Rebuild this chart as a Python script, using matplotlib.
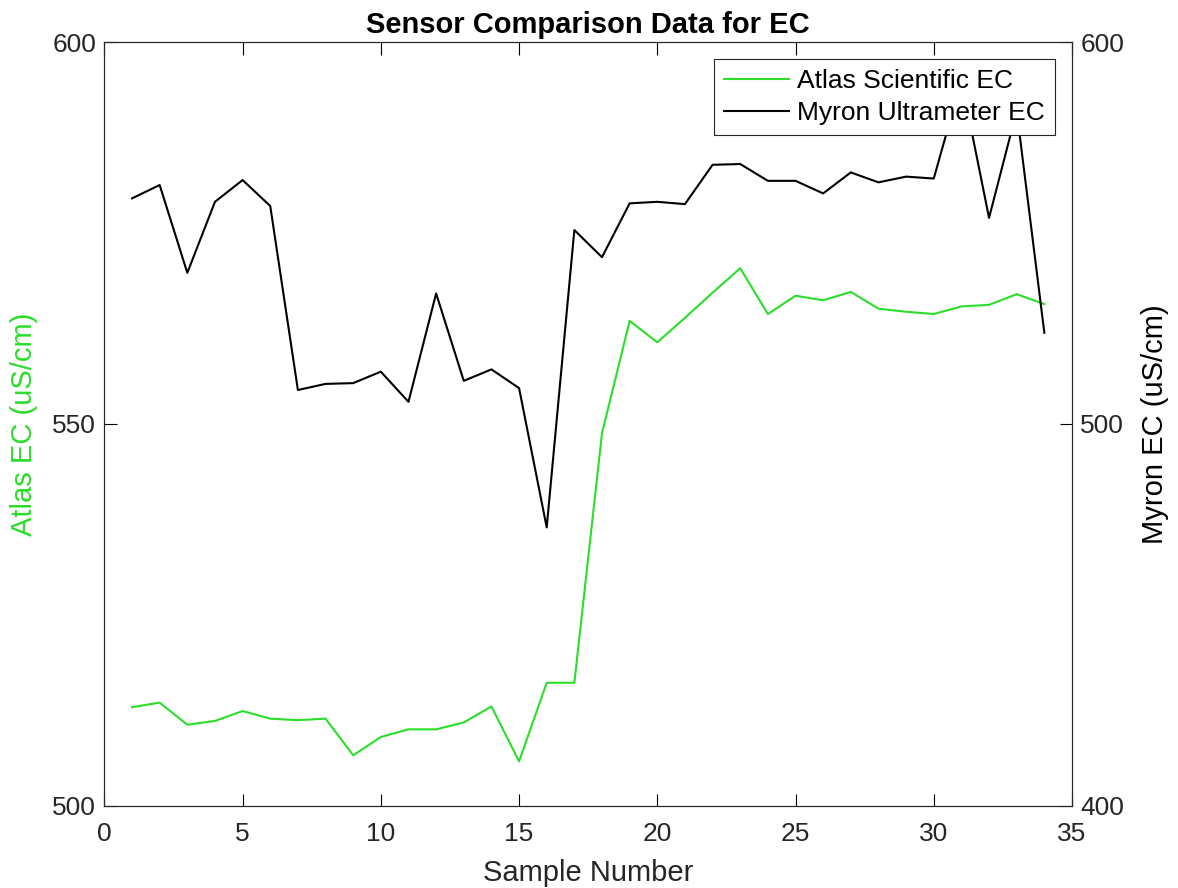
import matplotlib
matplotlib.use("Agg")
import matplotlib.pyplot as plt

samples = list(range(1, 35))
atlas_ec = [512.9, 513.5, 510.6, 511.1, 512.4, 511.4, 511.2, 511.4, 506.6, 509.0,
            510.0, 510.0, 510.9, 513.0, 505.8, 516.1, 516.1, 548.8, 563.5, 560.7,
            563.9, 567.2, 570.4, 564.4, 566.8, 566.2, 567.3, 565.1, 564.7, 564.4,
            565.4, 565.6, 567.0, 565.7]
myron_ec = [559.1, 562.6, 539.6, 558.2, 563.9, 557.1, 508.9, 510.5, 510.7, 513.7,
            505.8, 534.2, 511.3, 514.3, 509.4, 472.9, 550.8, 543.7, 557.8, 558.2,
            557.6, 567.9, 568.1, 563.7, 563.7, 560.4, 565.9, 563.3, 564.8, 564.3,
            590.0, 554.0, 582.0, 523.9]

x_ticks = [0, 5, 10, 15, 20, 25, 30, 35]
left_ticks = [500, 550, 600]
right_ticks = [400, 500, 600]

plt.rcParams['font.family'] = ['Liberation Sans', 'DejaVu Sans']
txt = '#262626'
green = '#2ade2a'
fs = 19
lfs = 21

fig = plt.figure(figsize=(11.78, 8.88), dpi=100)
ax = fig.add_axes([0.0886, 0.0927, 0.8214, 0.8597])
ax2 = ax.twinx()

l1, = ax.plot(samples, atlas_ec, color=green, lw=1.5, label='Atlas Scientific EC')
l2, = ax2.plot(samples, myron_ec, color='black', lw=1.5, label='Myron Ultrameter EC')

ax.set_xlim(0, 35)
ax.set_ylim(500, 600)
ax2.set_ylim(400, 600)
ax.set_xticks(x_ticks)
ax.set_yticks(left_ticks)
ax2.set_yticks(right_ticks)

ax.tick_params(axis='x', which='both', direction='in', top=True, length=9, width=0.8,
               labelsize=fs, labelcolor=txt, pad=12)
ax.tick_params(axis='y', direction='in', left=True, right=False, length=9, width=0.8,
               labelsize=fs, labelcolor=txt, pad=6)
ax2.tick_params(axis='y', direction='in', right=True, length=9, width=0.8,
                labelsize=fs, labelcolor=txt, pad=6)

for a in (ax, ax2):
    for s in a.spines.values():
        s.set_linewidth(0.8)
        s.set_color(txt)

ax.set_xlabel('Sample Number', fontsize=lfs, color=txt, labelpad=9)
ax.set_ylabel('Atlas EC (uS/cm)', fontsize=lfs, color=green, labelpad=10)
ax2.set_ylabel('Myron EC (uS/cm)', fontsize=lfs, color='black', labelpad=12)
ax.set_title('Sensor Comparison Data for EC', fontsize=lfs, fontweight='bold', color='black', pad=7)

leg = ax2.legend(handles=[l1, l2], loc='upper right', fontsize=fs, frameon=True,
                 fancybox=False, edgecolor=txt, framealpha=1, handlelength=2.45,
                 borderaxespad=0.65, borderpad=0.38, labelspacing=0.3, handletextpad=0.3)
leg.get_frame().set_linewidth(0.8)

fig.savefig('out.png', dpi=100)
